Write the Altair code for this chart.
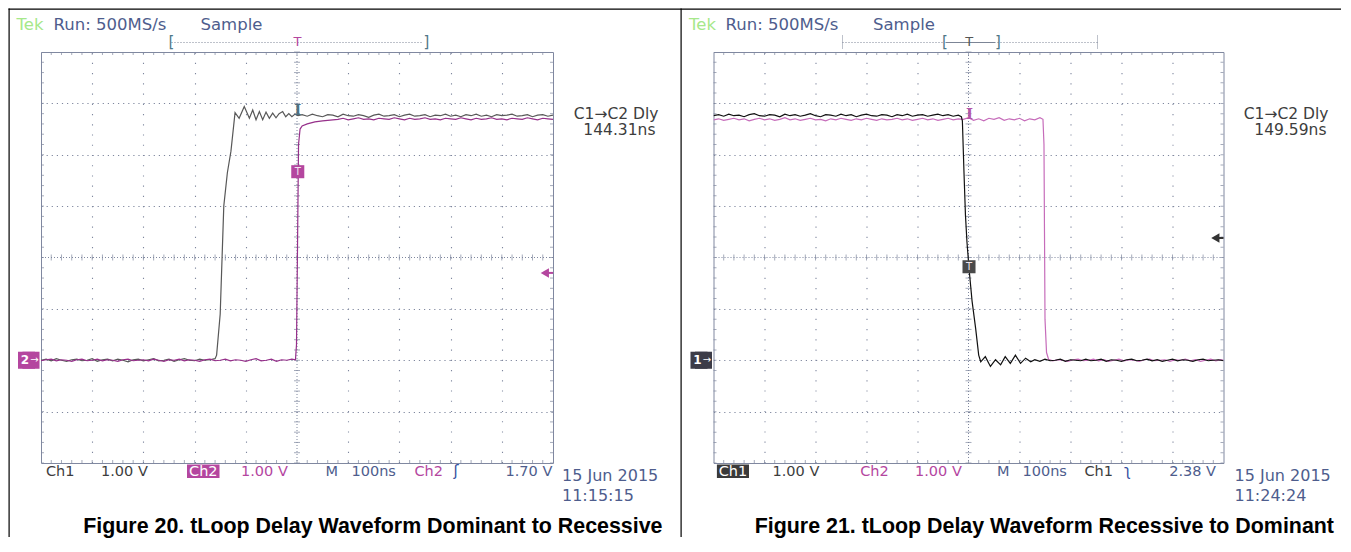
import altair as alt
import pandas as pd

# ---------------- data: time in ns, level in V (relative to ground marker) ----------------
# Figure 20 (dominant to recessive)
L_CH1 = [(-500, 0.00), (-490, 0.02), (-480, -0.01), (-470, 0.03), (-460, 0.00), (-450, -0.02),
         (-440, 0.01), (-430, 0.02), (-420, -0.01), (-410, 0.00), (-400, 0.03), (-390, -0.02),
         (-380, 0.01), (-370, 0.02), (-360, -0.01), (-350, 0.02), (-340, 0.00), (-330, -0.03),
         (-320, 0.01), (-310, 0.02), (-300, -0.01), (-290, 0.01), (-280, 0.03), (-270, -0.01),
         (-260, 0.00), (-250, 0.02), (-240, -0.02), (-230, 0.01), (-220, 0.03), (-210, 0.00),
         (-200, -0.01), (-190, 0.02), (-180, 0.00), (-170, 0.01), (-160, 0.03),
         (-157, 0.10), (-150, 0.90), (-143, 3.00), (-136, 3.65), (-129, 4.07), (-121, 4.82),
         (-113, 4.71), (-103, 4.94), (-93, 4.71), (-86.5, 4.87), (-80, 4.68), (-73.5, 4.84),
         (-67, 4.68), (-60.5, 4.83), (-54, 4.71), (-47.5, 4.81), (-41, 4.72), (-35, 4.80),
         (-28, 4.84), (-22, 4.74), (-16, 4.80), (-10, 4.74), (-4, 4.79), (2, 4.76),
         (10, 4.78), (20, 4.75), (30, 4.79), (40, 4.76), (50, 4.74), (60, 4.78), (70, 4.77),
         (80, 4.74), (90, 4.79), (100, 4.76), (110, 4.75), (120, 4.78), (130, 4.76), (140, 4.73),
         (150, 4.77), (160, 4.79), (170, 4.75), (180, 4.76), (190, 4.78), (200, 4.74), (210, 4.77),
         (220, 4.79), (230, 4.75), (240, 4.76), (250, 4.78), (260, 4.74), (270, 4.77), (280, 4.76),
         (290, 4.79), (300, 4.75), (310, 4.77), (320, 4.74), (330, 4.78), (340, 4.76), (350, 4.79),
         (360, 4.75), (370, 4.77), (380, 4.74), (390, 4.78), (400, 4.76), (410, 4.77), (420, 4.79),
         (430, 4.75), (440, 4.76), (450, 4.78), (460, 4.74), (470, 4.77), (480, 4.78), (490, 4.75),
         (500, 4.77)]
L_CH2 = [(-500, -0.01), (-490, 0.01), (-480, 0.02), (-470, -0.01), (-460, 0.01), (-450, 0.00),
         (-440, -0.02), (-430, 0.01), (-420, 0.02), (-410, -0.01), (-400, 0.00), (-390, 0.02),
         (-380, -0.01), (-370, 0.01), (-360, 0.00), (-350, -0.02), (-340, 0.01), (-330, 0.02),
         (-320, -0.01), (-310, 0.00), (-300, 0.01), (-290, -0.01), (-280, 0.02), (-270, 0.00),
         (-260, -0.02), (-250, 0.01), (-240, 0.00), (-230, 0.02), (-220, -0.01), (-210, 0.01),
         (-200, 0.00), (-190, -0.02), (-180, 0.01), (-170, 0.02), (-160, -0.01), (-150, 0.00),
         (-140, 0.02), (-130, -0.01), (-120, 0.01), (-110, 0.00), (-100, -0.02), (-90, 0.01),
         (-80, 0.03), (-70, -0.01), (-60, 0.00), (-50, 0.02), (-40, -0.02), (-30, 0.01),
         (-20, 0.00), (-10, 0.02), (-3, 0.01),
         (-1, 0.30), (1, 2.20), (3, 4.20), (6, 4.50), (10, 4.56), (20, 4.60), (35, 4.64),
         (50, 4.66), (70, 4.68),
         (80, 4.69), (90, 4.71), (100, 4.68), (110, 4.70), (120, 4.72), (130, 4.69), (140, 4.70),
         (150, 4.68), (160, 4.71), (170, 4.70), (180, 4.69), (190, 4.72), (200, 4.70), (210, 4.68),
         (220, 4.71), (230, 4.69), (240, 4.70), (250, 4.72), (260, 4.69), (270, 4.70), (280, 4.68),
         (290, 4.71), (300, 4.70), (310, 4.69), (320, 4.72), (330, 4.70), (340, 4.68), (350, 4.71),
         (360, 4.69), (370, 4.70), (380, 4.72), (390, 4.69), (400, 4.70), (410, 4.68), (420, 4.71),
         (430, 4.70), (440, 4.69), (450, 4.72), (460, 4.70), (470, 4.68), (480, 4.71), (490, 4.70),
         (500, 4.69)]

# Figure 21 (recessive to dominant)
R_CH1 = [(-500, 4.76), (-490, 4.78), (-480, 4.75), (-470, 4.79), (-460, 4.76), (-450, 4.77),
         (-440, 4.74), (-430, 4.78), (-420, 4.80), (-410, 4.76), (-400, 4.75), (-390, 4.78),
         (-380, 4.77), (-370, 4.74), (-360, 4.79), (-350, 4.76), (-340, 4.78), (-330, 4.75),
         (-320, 4.77), (-310, 4.80), (-300, 4.76), (-290, 4.74), (-280, 4.78), (-270, 4.77),
         (-260, 4.75), (-250, 4.79), (-240, 4.76), (-230, 4.78), (-220, 4.74), (-210, 4.77),
         (-200, 4.79), (-190, 4.76), (-180, 4.75), (-170, 4.78), (-160, 4.77), (-150, 4.74),
         (-140, 4.78), (-130, 4.76), (-120, 4.79), (-110, 4.75), (-100, 4.77), (-90, 4.78),
         (-80, 4.75), (-70, 4.77), (-60, 4.79), (-50, 4.76), (-40, 4.78), (-30, 4.75),
         (-20, 4.77), (-14, 4.74),
         (-12, 4.66), (-9, 3.70), (-6, 2.83), (-3, 2.30), (1, 1.79), (7, 1.15), (14, 0.62),
         (20, 0.10),
         (24, -0.03), (33, 0.07), (43, -0.12), (53, 0.01), (63, -0.09), (72, 0.07), (82, -0.06),
         (92, 0.10), (102, -0.06), (112, 0.04), (122, -0.03),
         (130, 0.01), (140, -0.02), (150, 0.02), (160, -0.01), (170, 0.00), (180, 0.02),
         (190, -0.02), (200, 0.01), (210, 0.00), (220, -0.01), (230, 0.02), (240, -0.01),
         (250, 0.00), (260, 0.02), (270, -0.02), (280, 0.01), (290, 0.00), (300, -0.02),
         (310, 0.01), (320, 0.02), (330, -0.01), (340, 0.00), (350, 0.02), (360, -0.01),
         (370, 0.01), (380, -0.02), (390, 0.00), (400, 0.02), (410, -0.01), (420, 0.01),
         (430, 0.00), (440, -0.02), (450, 0.01), (460, 0.02), (470, -0.01), (480, 0.00),
         (490, 0.01), (500, -0.01)]
R_CH2 = [(-500, 4.68), (-490, 4.70), (-480, 4.67), (-470, 4.69), (-460, 4.71), (-450, 4.68),
         (-440, 4.70), (-430, 4.66), (-420, 4.69), (-410, 4.71), (-400, 4.68), (-390, 4.70),
         (-380, 4.67), (-370, 4.69), (-360, 4.72), (-350, 4.68), (-340, 4.70), (-330, 4.67),
         (-320, 4.69), (-310, 4.71), (-300, 4.68), (-290, 4.69), (-280, 4.66), (-270, 4.70),
         (-260, 4.68), (-250, 4.71), (-240, 4.69), (-230, 4.67), (-220, 4.70), (-210, 4.68),
         (-200, 4.71), (-190, 4.69), (-180, 4.67), (-170, 4.70), (-160, 4.68), (-150, 4.69),
         (-140, 4.71), (-130, 4.68), (-120, 4.70), (-110, 4.67), (-100, 4.69), (-90, 4.71),
         (-80, 4.68), (-70, 4.70), (-60, 4.67), (-50, 4.69), (-40, 4.71), (-30, 4.68),
         (-20, 4.70), (-10, 4.69), (0, 4.72), (10, 4.67), (20, 4.70), (30, 4.66), (40, 4.71),
         (50, 4.69), (60, 4.72), (70, 4.67), (80, 4.70), (90, 4.68), (100, 4.71), (110, 4.66),
         (120, 4.70), (130, 4.68), (140, 4.72), (146, 4.69),
         (148, 4.20), (149, 2.50), (150, 0.80), (153, 0.15), (157, 0.02),
         (165, -0.01), (175, 0.01), (185, 0.00), (195, -0.02), (205, 0.01), (215, 0.02),
         (225, -0.01), (235, 0.00), (245, 0.02), (255, -0.01), (265, 0.01), (275, -0.02),
         (285, 0.00), (295, 0.02), (305, -0.01), (315, 0.01), (325, 0.00), (335, -0.02),
         (345, 0.01), (355, 0.02), (365, -0.01), (375, 0.00), (385, 0.01), (395, -0.02),
         (405, 0.01), (415, 0.00), (425, 0.02), (435, -0.01), (445, 0.01), (455, -0.02),
         (465, 0.00), (475, 0.02), (485, -0.01), (495, 0.01), (500, 0.00)]

# graticule structure (divisions of 100 ns and 1 V)
GRID_T = [-400, -300, -200, -100, 100, 200, 300, 400]
GRID_V = [-1, 0, 1, 3, 4, 5]
MINOR_T = [-480 + 20 * i for i in range(49)]
MINOR_V = [round(-2 + 0.2 * i, 1) for i in range(41)]

# ---------------- styling ----------------
FONT = "DejaVu Sans"
GRID_C = "#7f879e"
SLATE = "#4e5d8d"
MAG = "#b4469f"
DARK = "#3d3d3d"
GREEN = "#a6e88a"
TEAL = "#4f7888"
W_L, W_R, H = 512, 510, 411

ONE = pd.DataFrame({"k": [0]})


def label(txt, x, y, color, size=16, align="left", weight="normal", font=FONT, baseline="alphabetic"):
    return alt.Chart(ONE).mark_text(
        text=txt, align=align, baseline=baseline, font=font, fontSize=size,
        fontWeight=weight, color=color
    ).encode(x=alt.value(x), y=alt.value(y))


def hrule(x1, x2, y, color, dash=None, width=1):
    kw = dict(color=color, strokeWidth=width)
    if dash:
        kw["strokeDash"] = dash
    return alt.Chart(ONE).mark_rule(**kw).encode(x=alt.value(x1), x2=alt.value(x2), y=alt.value(y))


def vrule(x, y1, y2, color, dash=None, width=1):
    kw = dict(color=color, strokeWidth=width)
    if dash:
        kw["strokeDash"] = dash
    return alt.Chart(ONE).mark_rule(**kw).encode(x=alt.value(x), y=alt.value(y1), y2=alt.value(y2))


def box(x1, x2, y1, y2, color):
    return alt.Chart(ONE).mark_rect(color=color, strokeWidth=0).encode(
        x=alt.value(x1), x2=alt.value(x2), y=alt.value(y1), y2=alt.value(y2))


def panel(W, ch1, ch2, c1col, c2col, ch1_on_top, cursor, cursor_col, trig, trig_col,
          arrow_v, arrow_col, gnd_txt, gnd_col, extra):
    SX = alt.Scale(domain=[-500, 500], nice=False, zero=False)
    SY = alt.Scale(domain=[-2, 6], nice=False, zero=False)
    AX = alt.Axis(values=GRID_T, grid=True, gridDash=[1.2, 9.04], gridColor=GRID_C, gridOpacity=1,
                  gridWidth=1.1, labels=False, ticks=False, domain=False, title=None,
                  minExtent=0, offset=0)
    AY = alt.Axis(values=GRID_V, grid=True, gridDash=[1.2, 3.9], gridColor=GRID_C, gridOpacity=1,
                  gridWidth=1.1, labels=False, ticks=False, domain=False, title=None,
                  minExtent=0, offset=0)

    def X(f="t"):
        return alt.X(f, type="quantitative", scale=SX, axis=AX)

    def Y(f="v"):
        return alt.Y(f, type="quantitative", scale=SY, axis=AY)

    d1 = pd.DataFrame(ch1, columns=["t", "v"])
    d2 = pd.DataFrame(ch2, columns=["t", "v"])

    layers = []
    # centre cross-hair
    layers.append(alt.Chart(pd.DataFrame({"t": [0]})).mark_rule(
        color=GRID_C, strokeDash=[1, 2]).encode(x=X()))
    layers.append(alt.Chart(pd.DataFrame({"v": [2]})).mark_rule(
        color=GRID_C, strokeDash=[1, 2]).encode(y=Y()))
    layers.append(alt.Chart(pd.DataFrame({"t": MINOR_T, "v": [2] * len(MINOR_T)})).mark_tick(
        orient="vertical", size=6, thickness=1, color=GRID_C).encode(x=X(), y=Y()))
    layers.append(alt.Chart(pd.DataFrame({"t": [0] * len(MINOR_V), "v": MINOR_V})).mark_tick(
        orient="horizontal", size=6, thickness=1, color=GRID_C).encode(x=X(), y=Y()))
    # edge ticks
    edge_h = pd.DataFrame({"t": MINOR_T * 2, "v": [-2] * len(MINOR_T) + [6] * len(MINOR_T)})
    edge_v = pd.DataFrame({"t": [-500] * len(MINOR_V) + [500] * len(MINOR_V), "v": MINOR_V * 2})
    layers.append(alt.Chart(edge_h).mark_tick(orient="vertical", size=6, thickness=1,
                                              color=GRID_C, clip=True).encode(x=X(), y=Y()))
    layers.append(alt.Chart(edge_v).mark_tick(orient="horizontal", size=6, thickness=1,
                                              color=GRID_C, clip=True).encode(x=X(), y=Y()))
    # traces
    l1 = alt.Chart(d1).mark_line(color=c1col, strokeWidth=1.2, clip=True).encode(x=X(), y=Y(), order="t")
    l2 = alt.Chart(d2).mark_line(color=c2col, strokeWidth=1.2, clip=True).encode(x=X(), y=Y(), order="t")
    layers += [l2, l1] if ch1_on_top else [l1, l2]
    # cursor marker, trigger box, trigger-level arrow, ground marker
    layers.append(alt.Chart(pd.DataFrame([cursor], columns=["t", "v"])).mark_text(
        text="I", font="DejaVu Serif", fontSize=15, fontWeight="bold", color=cursor_col,
        baseline="middle").encode(x=X(), y=Y()))
    td = pd.DataFrame([trig], columns=["t", "v"])
    layers.append(alt.Chart(td).mark_square(size=170, color=trig_col, opacity=1).encode(x=X(), y=Y()))
    layers.append(alt.Chart(td).mark_text(text="T", fontSize=10, color="#f2e6f0", font=FONT,
                                          baseline="middle").encode(x=X(), y=Y()))
    ad = pd.DataFrame({"t": [484], "t2": [500], "v": [arrow_v]})
    layers.append(alt.Chart(ad).mark_rule(color=arrow_col, strokeWidth=2).encode(
        x=X(), x2=alt.X2("t2"), y=Y()))
    layers.append(alt.Chart(ad).mark_point(shape="triangle-left", filled=True, size=90,
                                           color=arrow_col, opacity=1).encode(x=X(), y=Y()))
    gd = pd.DataFrame({"v": [0]})
    layers.append(alt.Chart(gd).mark_square(size=290, color=gnd_col, opacity=1).encode(
        x=alt.value(-14.5), y=Y()))
    layers.append(alt.Chart(gd).mark_square(size=290, color=gnd_col, opacity=1).encode(
        x=alt.value(-10), y=Y()))
    layers.append(alt.Chart(gd).mark_text(text=gnd_txt, fontSize=12, fontWeight="bold",
                                          color="white", font=FONT, baseline="middle").encode(
        x=alt.value(-16), y=Y()))
    layers.append(alt.Chart(gd).mark_text(text="\u2192", fontSize=10, color="white", font=FONT,
                                          baseline="middle").encode(x=alt.value(-6.5), y=Y()))
    layers += extra
    return alt.layer(*layers).properties(width=W, height=H)


# ---------------- left panel annotations (pixels relative to graticule origin) ----------------
left_extra = [
    # outer frame (filled strips, so that their bounds are exact)
    box(-32.5, -31.3, -43.5, 485, "black"),
    box(-32.5, 1300, -43.5, -42.3, "black"),
    box(639.5, 640.7, -43.5, 485, "black"),
    # header
    label("Tek", -24.5, -22.5, GREEN, size=16.5),
    label("Run: 500MS/s", 12.5, -22.5, SLATE, size=16.5),
    label("Sample", 159.5, -22.5, SLATE, size=16.5),
    hrule(130.5, 382.5, -9.5, "#7c8596", dash=[1, 2]),
    label("[", 127.5, -10, TEAL, size=15, baseline="middle"),
    label("]", 382.5, -10, TEAL, size=15, baseline="middle"),
    label("T", 256.5, -10, MAG, size=13, align="center", baseline="middle"),
    # measurement
    label("C1\u2192C2 Dly", 617.5, 67, DARK, size=15.5, align="right"),
    label("144.31ns", 614.5, 83, DARK, size=15.5, align="right"),
    # footer
    label("Ch1", 5, 424, DARK, size=14.5),
    label("1.00 V", 60, 424, DARK, size=14.5),
    box(146, 178.5, 412.5, 426, MAG),
    label("Ch2", 162.3, 424, "white", size=14.5, align="center"),
    label("1.00 V", 200, 424, MAG, size=14.5),
    label("M", 284.5, 424, SLATE, size=14.5),
    label("100ns", 310.5, 424, SLATE, size=14.5),
    label("Ch2", 373.5, 424, MAG, size=14.5),
    label("\u0283", 415, 424, "#3450a0", size=15, align="center"),
    label("1.70 V", 464.5, 424, SLATE, size=14.5),
    label("15 Jun 2015", 521, 428.5, SLATE, size=16),
    label("11:15:15", 521, 448.5, SLATE, size=16),
    # caption
    label("Figure 20. tLoop Delay Waveform Dominant to Recessive", 621.5, 480.5, "black",
          size=21.4, align="right", weight="bold", font="Liberation Sans"),
]

right_extra = [
    # header
    label("Tek", -24.5, -22.5, GREEN, size=16.5),
    label("Run: 500MS/s", 12, -22.5, SLATE, size=16.5),
    label("Sample", 159.5, -22.5, SLATE, size=16.5),
    hrule(129, 230, -9.5, "#7c8596", dash=[1, 2]),
    hrule(284, 384, -9.5, "#7c8596", dash=[1, 2]),
    hrule(232, 282, -9.5, "#7c8596"),
    vrule(129, -16.5, -3.5, "#7c8596", dash=[1, 1]),
    vrule(384, -16.5, -3.5, "#7c8596", dash=[1, 1]),
    label("[", 228.5, -10, TEAL, size=15, baseline="middle"),
    label("]", 281.5, -10, TEAL, size=15, baseline="middle"),
    label("T", 255.8, -10, "#555555", size=13, align="center", baseline="middle"),
    # measurement
    label("C1\u2192C2 Dly", 615, 67, DARK, size=15.5, align="right"),
    label("149.59ns", 613, 83, DARK, size=15.5, align="right"),
    # footer
    box(3.4, 35.5, 412.5, 426, "#3a3a3a"),
    label("Ch1", 19.5, 424, "white", size=14.5, align="center"),
    label("1.00 V", 59, 424, DARK, size=14.5),
    label("Ch2", 146.7, 424, MAG, size=14.5),
    label("1.00 V", 201.5, 424, MAG, size=14.5),
    label("M", 283.6, 424, SLATE, size=14.5),
    label("100ns", 309, 424, SLATE, size=14.5),
    label("Ch1", 371, 424, DARK, size=14.5),
    label("\u0285", 414, 424, "#3450a0", size=15, align="center"),
    label("2.38 V", 455.7, 424, SLATE, size=14.5),
    label("15 Jun 2015", 521, 428.5, SLATE, size=16),
    label("11:24:24", 521, 448.5, SLATE, size=16),
    # caption
    label("Figure 21. tLoop Delay Waveform Recessive to Dominant", 620.5, 480.5, "black",
          size=21.4, align="right", weight="bold", font="Liberation Sans"),
]

left = panel(W_L, L_CH1, L_CH2, "#585858", "#96308a", False,
             (1.3, 4.87), "#4e7080", (1.5, 3.67), MAG, 1.70, MAG, "2", MAG, left_extra)
right = panel(W_R, R_CH1, R_CH2, "#111111", "#c66cba", True,
              (2, 4.79), "#b455a8", (1, 1.82), "#4a4a4a", 2.38, "#333333", "1", "#3c3c48", right_extra)

chart = alt.hconcat(left, right, spacing=160.5, bounds="flush").properties(
    padding=0, background="white"
).configure_view(stroke="#8088a0", strokeWidth=1)

chart.save("out.html", embed_options={"renderer": "svg", "actions": False})
